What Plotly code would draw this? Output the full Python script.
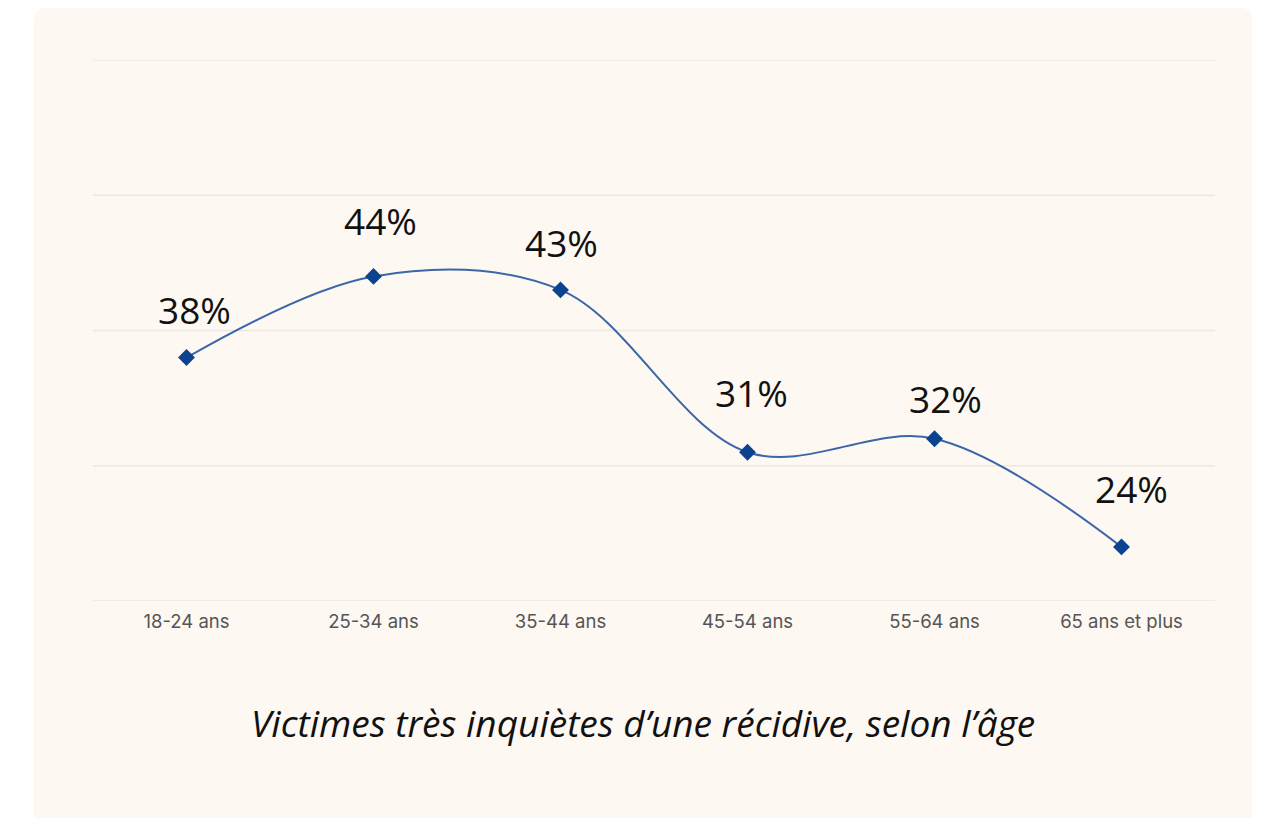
import plotly.graph_objects as go

categories = ["18-24 ans", "25-34 ans", "35-44 ans", "45-54 ans", "55-64 ans", "65 ans et plus"]
values = [38, 44, 43, 31, 32, 24]
labels = ["38%", "44%", "43%", "31%", "32%", "24%"]
y_ticks = [20, 30, 40, 50, 60]
title_text = "Victimes très inquiètes d\u2019une récidive, selon l\u2019âge"

# label placement (style): pixel offsets of each value label from its point
label_dx = [8, 7, 1, 4, 11, 10]
label_dy = [48, 56, 47, 60, 40, 58]

W, H = 1261, 818
L, R, T, B = 93, 46, 60, 217
pw, ph = W - L - R, H - T - B

def px_x(p):
    return (p - L) / pw

def px_y(p):
    return (H - B - p) / ph

fig = go.Figure()

# card background with rounded top corners
x0, x1, y0, y1, r = px_x(34), px_x(1252), px_y(8), px_y(830), 12
rx, ry = r / pw, r / ph
path = (f"M {x0},{y1} L {x0},{y0 - ry} Q {x0},{y0} {x0 + rx},{y0} "
        f"L {x1 - rx},{y0} Q {x1},{y0} {x1},{y0 - ry} L {x1},{y1} Z")
fig.add_shape(type="path", path=path, xref="paper", yref="paper",
              fillcolor="#fdf8f2", line=dict(width=0), layer="below")

for t in y_ticks:
    fig.add_shape(type="line", xref="paper", yref="y", x0=0, x1=1, y0=t, y1=t,
                  line=dict(color="#ebe7e1", width=1.5), layer="below")

fig.add_trace(go.Scatter(
    x=categories, y=values, mode="lines+markers",
    line=dict(color="#3b66a8", width=2, shape="spline", smoothing=1),
    marker=dict(symbol="diamond", size=13, color="#0b4390"),
    hoverinfo="skip", showlegend=False,
))

for c, v, t, dx, dy in zip(categories, values, labels, label_dx, label_dy):
    fig.add_annotation(x=c, y=v, text=t, showarrow=False, xshift=dx, yshift=dy,
                       font=dict(family="Open Sans", size=37, color="#111111"))

fig.add_annotation(xref="paper", yref="paper", x=px_x(643), y=px_y(722), text=title_text,
                   showarrow=False, xanchor="center", yanchor="middle",
                   font=dict(family="Open Sans", size=37, color="#111111", style="italic"))

fig.update_layout(
    width=W, height=H, margin=dict(l=L, r=R, t=T, b=B),
    paper_bgcolor="#ffffff", plot_bgcolor="rgba(0,0,0,0)",
    xaxis=dict(range=[-0.5, 5.5], showgrid=False, zeroline=False, showline=False,
               tickfont=dict(family="Inter", size=18.5, color="#555555"), ticks="",
               ticklabelstandoff=7, fixedrange=True),
    yaxis=dict(range=[20, 60], showticklabels=False, showgrid=False,
               zeroline=False, showline=False, ticks="", fixedrange=True),
)

fig.write_html("out.html", config={"displayModeBar": False, "staticPlot": True})

with open("out.html", "r", encoding="utf-8") as f:
    html = f.read()
html = html.replace("<head>", "<head><style>html,body{margin:0;padding:0;overflow:hidden;}</style>", 1)
with open("out.html", "w", encoding="utf-8") as f:
    f.write(html)
